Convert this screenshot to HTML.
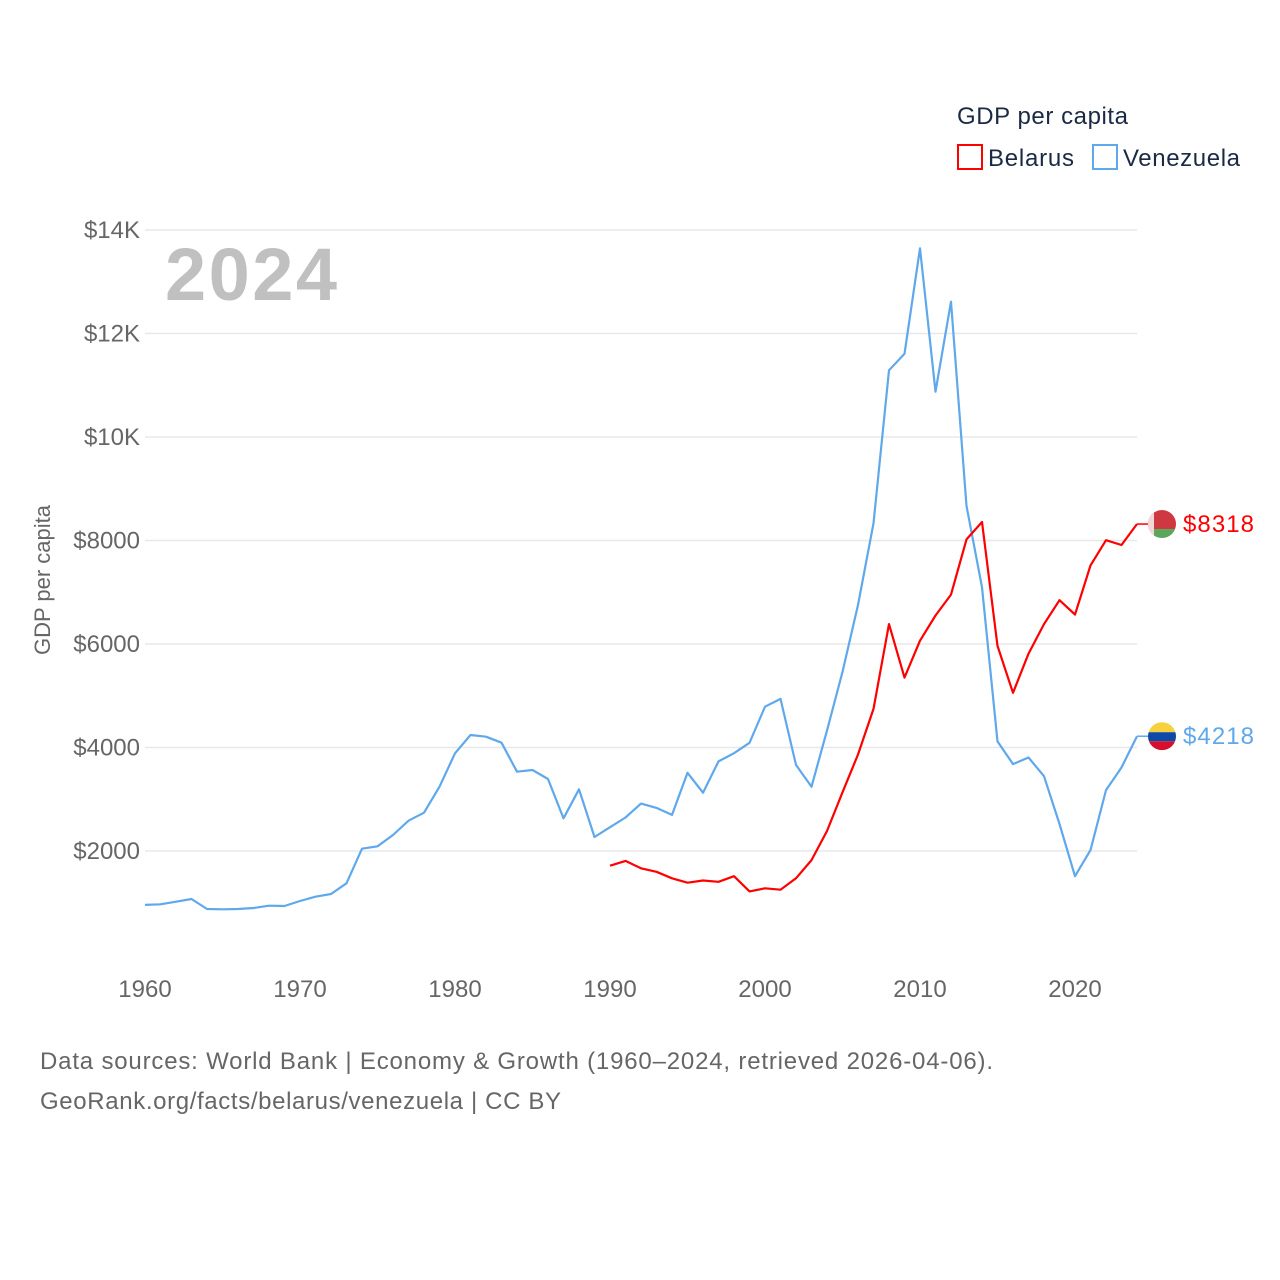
<!DOCTYPE html>
<html><head><meta charset="utf-8"><style>
html,body{margin:0;padding:0;background:#fff;}
svg{display:block;font-family:"Liberation Sans",sans-serif;}
</style></head><body>
<svg id="chart" width="1280" height="1280" viewBox="0 0 1280 1280">
<text x="957" y="124" font-size="24" fill="#1b2a44" textLength="171">GDP per capita</text>
<g><rect x="958" y="145" width="24" height="24" fill="none" stroke="#ff0000" stroke-width="2"/><text x="988" y="166" font-size="24" fill="#1b2a44" textLength="86">Belarus</text></g>
<g><rect x="1093" y="145" width="24" height="24" fill="none" stroke="#5fa8ec" stroke-width="2"/><text x="1123" y="166" font-size="24" fill="#1b2a44" textLength="117">Venezuela</text></g>
<text x="165" y="300" font-size="74" font-weight="bold" fill="#c0c0c0" textLength="172">2024</text>
<g id="grid"></g><g id="yticks"></g><g id="xticks"></g><g id="lines"></g><g id="ends"></g>
<text transform="translate(50,580) rotate(-90)" text-anchor="middle" font-size="22" fill="#666">GDP per capita</text>
<text x="40" y="1069" font-size="24" fill="#666" textLength="953">Data sources: World Bank | Economy &amp; Growth (1960–2024, retrieved 2026-04-06).</text>
<text x="40" y="1109" font-size="24" fill="#666" textLength="521">GeoRank.org/facts/belarus/venezuela | CC BY</text>
</svg>
<script>
const venYears=[];for(let y=1960;y<=2024;y++)venYears.push(y);
const venezuela=[958,970,1020,1072,879,873,879,899,943,937,1034,1117,1169,1376,2045,2091,2309,2586,2740,3243,3888,4242,4209,4093,3533,3565,3391,2632,3192,2270,2460,2647,2916,2832,2698,3512,3126,3731,3890,4091,4788,4940,3663,3243,4327,5460,6754,8332,11288,11607,13647,10876,12614,8668,7098,4117,3680,3806,3445,2521,1514,2017,3176,3613,4218];
const belYears=[];for(let y=1990;y<=2024;y++)belYears.push(y);
const belarus=[1715,1808,1665,1598,1472,1388,1430,1405,1514,1220,1279,1253,1472,1825,2387,3134,3865,4746,6384,5351,6064,6551,6955,8021,8357,5964,5057,5813,6384,6846,6569,7518,8005,7913,8318];
const yTicks=[2000,4000,6000,8000,10000,12000,14000];
const yTickLabels=["$2000","$4000","$6000","$8000","$10K","$12K","$14K"];
const xTicks=[1960,1970,1980,1990,2000,2010,2020];
const NS="http://www.w3.org/2000/svg";
const xs=yr=>145+(yr-1960)*15.5;
const ys=v=>954.5-v*103.5/2000;
function mk(tag,attrs,parent,text){const e=document.createElementNS(NS,tag);for(const k in attrs)e.setAttribute(k,attrs[k]);if(text!==undefined)e.textContent=text;document.getElementById(parent).appendChild(e);return e;}
yTicks.forEach((t,i)=>{
 const l=mk('line',{x1:145,x2:1137,y1:ys(t),y2:ys(t),stroke:'#e8e8e8','stroke-width':1.5},'grid');
 
 
 const tx=mk('text',{x:140,y:ys(t)+8,'text-anchor':'end','font-size':24,fill:'#666'},'yticks',yTickLabels[i]);
 
 
});
xTicks.forEach(t=>{
 const tx=mk('text',{x:xs(t),y:997,'text-anchor':'middle','font-size':24,fill:'#666'},'xticks',String(t));
 
 
});
function series(years,vals,color,name){
 const d=years.map((y,i)=>(i?'L':'M')+xs(y).toFixed(1)+' '+ys(vals[i]).toFixed(1)).join(' ');
 const p=mk('path',{d:d,fill:'none',stroke:color,'stroke-width':2.2,'stroke-linejoin':'round'},'lines');
 
 
}
series(venYears,venezuela,'#5fa8ec','venezuela');
series(belYears,belarus,'#ff0000','belarus');
function endLabel(years,vals,color,name,flag){
 const v=vals[vals.length-1],x=xs(years[years.length-1]),y=ys(v);
 mk('line',{x1:x,x2:x+11,y1:y,y2:y,stroke:color,'stroke-width':1.5},'ends');
 const g=mk('g',{},'ends');
 
 
 const cx=x+25,r=14;
 const id='clip'+name;
 const cp=document.createElementNS(NS,'clipPath');cp.setAttribute('id',id);
 const c=document.createElementNS(NS,'circle');c.setAttribute('cx',cx);c.setAttribute('cy',y);c.setAttribute('r',r);cp.appendChild(c);g.appendChild(cp);
 const gg=document.createElementNS(NS,'g');gg.setAttribute('clip-path','url(#'+id+')');g.appendChild(gg);
 flag.forEach(f=>{const rc=document.createElementNS(NS,'rect');rc.setAttribute('x',cx-r+f[0]);rc.setAttribute('y',y-r+f[1]);rc.setAttribute('width',f[2]);rc.setAttribute('height',f[3]);rc.setAttribute('fill',f[4]);gg.appendChild(rc);});
 const t=mk('text',{x:cx+21,y:y+8,'font-size':24,fill:color,textLength:71},'ends','$'+v);
 
 
}
endLabel(belYears,belarus,'#ff0000','belarus',[[0,0,28,19,'#ce3840'],[0,19,28,9,'#5aa65a'],[0,0,6,28,'#f0d8d8']]);
endLabel(venYears,venezuela,'#5fa8ec','venezuela',[[0,0,28,10,'#f7d13c'],[0,10,28,9,'#0b4aa8'],[0,19,28,9,'#d4102c']]);
</script>
</body></html>
